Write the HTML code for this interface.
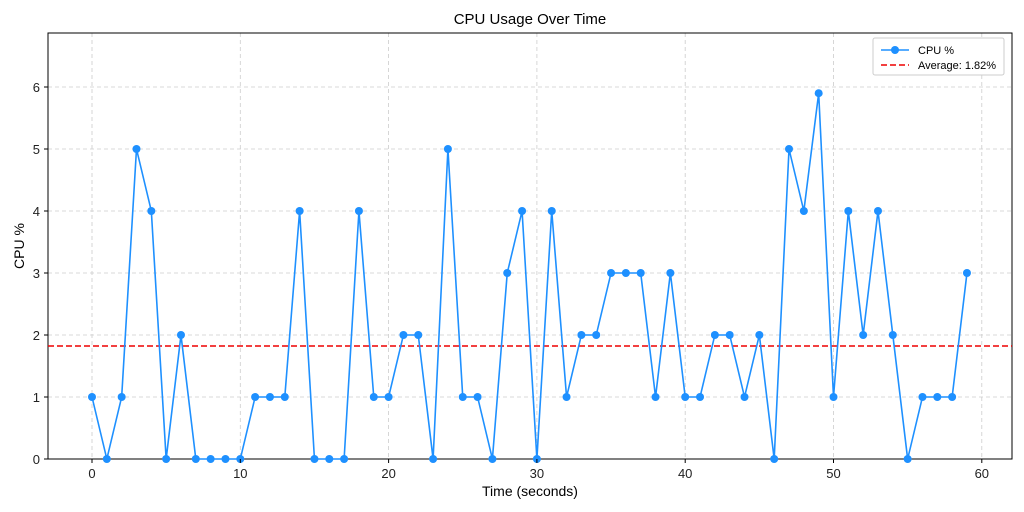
<!DOCTYPE html>
<html><head><meta charset="utf-8"><style>body{margin:0;background:#fff}svg{display:block;font-family:"Liberation Sans",sans-serif}</style></head>
<body>
<svg width="1024" height="512" viewBox="0 0 1024 512" xmlns="http://www.w3.org/2000/svg">
<rect width="1024" height="512" fill="#fff"/>
<g id="grid" stroke="#cccccc" stroke-dasharray="4,3" stroke-width="0.8"></g>
<rect x="48" y="33" width="964" height="426" fill="none" stroke="#000" stroke-width="1"/>
<line x1="48" y1="346" x2="1012" y2="346" stroke="#e00" stroke-width="1.6" stroke-dasharray="6,3"/>
<polyline id="ln" fill="none" stroke="#1e90ff" stroke-width="1.6"/>
<g id="pts" fill="#1e90ff"></g>
<g id="ticks" font-size="13" fill="#222"></g>
<text x="530" y="24" font-size="15" text-anchor="middle">CPU Usage Over Time</text>
<text x="530" y="496" font-size="14" text-anchor="middle">Time (seconds)</text>
<text x="24" y="246" font-size="14" text-anchor="middle" transform="rotate(-90 24 246)">CPU %</text>
<rect x="873" y="38" width="131" height="37" fill="#fff" stroke="#ccc" rx="2"/>
<line x1="881" y1="50" x2="909" y2="50" stroke="#1e90ff" stroke-width="1.6"/>
<circle cx="895" cy="50" r="4" fill="#1e90ff"/>
<text x="918" y="54" font-size="11">CPU %</text>
<line x1="881" y1="65" x2="909" y2="65" stroke="#e00" stroke-width="1.6" stroke-dasharray="6,3"/>
<text x="918" y="69" font-size="11">Average: 1.82%</text>
</svg>
<script>
var d=[1,0,1,5,4,0,2,0,0,0,0,1,1,1,4,0,0,0,4,1,1,2,2,0,5,1,1,0,3,4,0,4,1,2,2,3,3,3,1,3,1,1,2,2,1,2,0,5,4,5.9,1,4,2,4,2,0,1,1,1,3];
function X(i){return 92+i*14.83}function Y(v){return 459-v*62}
var ns="http://www.w3.org/2000/svg",g=document.getElementById('grid'),t=document.getElementById('ticks'),p=document.getElementById('pts');
function el(par,n,a,txt){var e=document.createElementNS(ns,n);for(var k in a)e.setAttribute(k,a[k]);if(txt!=null)e.textContent=txt;par.appendChild(e);}
for(var i=0;i<=60;i+=10){el(g,'line',{x1:X(i),x2:X(i),y1:33,y2:459});el(t,'line',{x1:X(i),x2:X(i),y1:459,y2:463,stroke:'#000'});el(t,'text',{x:X(i),y:478,'text-anchor':'middle'},i);}
for(var v=0;v<=6;v++){el(g,'line',{x1:48,x2:1012,y1:Y(v),y2:Y(v)});el(t,'line',{x1:44,x2:48,y1:Y(v),y2:Y(v),stroke:'#000'});el(t,'text',{x:40,y:Y(v)+5,'text-anchor':'end'},v);}
var s=[];d.forEach(function(v,i){s.push(X(i)+','+Y(v));el(p,'circle',{cx:X(i),cy:Y(v),r:4});});
document.getElementById('ln').setAttribute('points',s.join(' '));
</script>
</body></html>
